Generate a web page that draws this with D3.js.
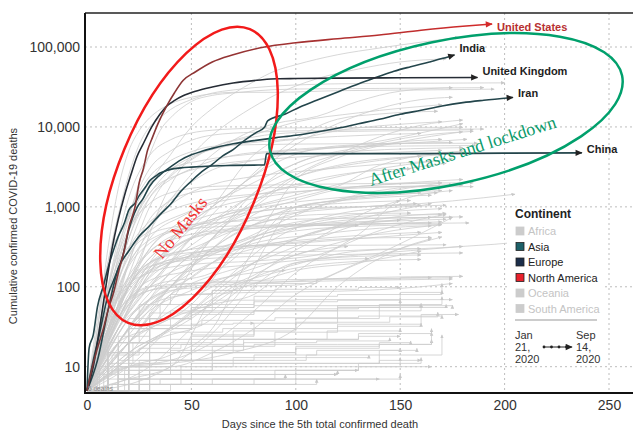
<!DOCTYPE html>
<html><head><meta charset="utf-8">
<script src="https://cdn.jsdelivr.net/npm/d3@7"></script>
<style>
body{margin:0;background:#fff}
svg{display:block;font-family:"Liberation Sans",Arial,Helvetica,sans-serif}
</style>
</head><body>
<svg id="c" width="633" height="431"></svg>
<script>
// ---------------- DATA ----------------
const xTicks = [0, 50, 100, 150, 200, 250];
const yTicks = [10, 100, 1000, 10000, 100000];
const yTickLabels = ["10", "100", "1,000", "10,000", "100,000"];

// highlighted countries: [day since 5th death, cumulative deaths]
const usDeaths = [[0,5],[3,11],[5,17],[8,31],[10,50],[13,90],[15,150],[18,300],[20,550],[23,1000],[25,2000],[27,3000],[29,5100],[31,7000],[34,11000],[38,18000],[42,27000],[46,38000],[52,49000],[60,65000],[70,80000],[85,100000],[100,113000],[120,127000],[140,141000],[160,162000],[180,182000],[194,194000]];
const ukDeaths = [[0,5],[3,10],[6,30],[9,100],[12,300],[15,700],[18,1400],[21,2500],[24,4300],[27,6200],[31,10000],[35,14500],[38,18000],[42,21500],[46,24500],[52,28000],[60,31600],[70,35500],[83,38700],[91,40000],[100,40300],[120,40800],[150,41200],[187,41600]];
const indiaDeaths = [[0,5],[5,12],[10,50],[15,170],[20,280],[25,430],[30,580],[35,800],[40,1075],[45,1570],[50,2100],[55,2750],[60,3400],[65,4350],[70,5200],[75,6650],[81,8500],[85,9900],[86.5,11900],[95,14500],[102,17800],[110,21600],[121,28000],[133,37000],[140,43000],[147,49700],[155,56700],[164,65000],[170,71600],[176,79700]];
const iranDeaths = [[0,5],[3,12],[6,26],[10,77],[14,145],[17,237],[20,514],[24,988],[27,1284],[30,1812],[35,2517],[40,3160],[45,3872],[50,4474],[55,4958],[60,5391],[70,6156],[80,6733],[90,7300],[100,7878],[110,8659],[120,9623],[130,10958],[140,12447],[150,14405],[160,16147],[170,18264],[180,20125],[190,21571],[204,23400]];
const chinaDeaths = [[0,5],[1,17],[3,25],[5,56],[8,106],[10,170],[13,304],[15,426],[18,638],[20,910],[23,1113],[25,1380],[28,1770],[30,2118],[33,2442],[35,2663],[38,2838],[40,2943],[45,3070],[50,3140],[55,3200],[60,3250],[70,3300],[80,3330],[85,3340],[86,4632],[120,4634],[160,4640],[200,4700],[237,4740]];

const highlightNames = ["China", "Iran", "India", "United Kingdom", "United States"];
const highlightContinents = ["Asia", "Asia", "Asia", "Europe", "North America"];
const highlightData = [chinaDeaths, iranDeaths, indiaDeaths, ukDeaths, usDeaths];

// other countries (grey), larger totals
const greyLarge = [
 [[0,5],[10,60],[20,400],[30,1900],[40,4500],[50,10000],[60,17000],[70,26000],[80,37000],[90,50000],[100,60000],[120,80000],[140,97000],[160,115000],[178,132000]],
 [[0,5],[15,50],[25,200],[35,1000],[45,3000],[55,6000],[65,10000],[75,15000],[90,25000],[110,40000],[130,53000],[150,65000],[172,71000]],
 [[0,5],[5,30],[10,200],[15,800],[20,2500],[25,6000],[30,10000],[35,13000],[40,16500],[50,22000],[60,26500],[70,29000],[80,31000],[100,33500],[130,34900],[160,35200],[200,35600]],
 [[0,5],[5,30],[10,300],[15,1700],[20,5000],[25,9000],[30,13000],[35,16500],[40,19500],[50,23500],[60,26000],[70,27100],[90,27100],[120,28400],[160,29000],[195,29700]],
 [[0,5],[10,50],[15,250],[20,700],[25,2000],[30,4500],[35,9000],[40,13000],[45,17000],[50,20800],[60,24800],[70,26600],[80,28200],[100,29800],[140,30300],[190,31000]],
 [[0,5],[15,100],[30,500],[45,1800],[60,4500],[75,8000],[90,11000],[110,13500],[130,21000],[150,28000],[175,31000]],
 [[0,5],[10,90],[20,800],[30,3000],[40,5000],[50,6800],[60,7900],[80,8600],[120,9100],[170,9400],[190,9400]],
 [[0,5],[10,100],[20,1300],[30,4400],[40,6900],[50,8400],[60,9100],[80,9600],[120,9800],[180,9900]],
 [[0,5],[20,100],[40,400],[60,1000],[80,2500],[100,6000],[120,11000],[140,17000],[160,22000],[175,23500]],
 [[0,5],[10,40],[20,300],[30,1300],[40,2400],[60,5500],[80,8000],[100,11500],[130,15000],[170,19000]],
 [[0,5],[15,30],[30,100],[45,300],[60,800],[75,2000],[90,4500],[105,8500],[120,12500],[140,14500],[168,15700]],
 [[0,5],[20,100],[40,300],[60,550],[80,1100],[100,2500],[120,4500],[140,7500],[160,10500],[180,12200]],
 [[0,5],[20,80],[40,300],[60,1000],[80,4500],[90,6500],[100,7000],[120,9000],[150,10800],[170,11600]],
 [[0,5],[10,30],[20,200],[30,1000],[40,2500],[50,4000],[60,5500],[80,7500],[100,8500],[140,8900],[185,9200]],
 [[0,5],[10,100],[20,800],[30,2400],[40,3800],[50,4900],[60,5700],[80,6000],[120,6150],[187,6250]],
 [[0,5],[10,40],[20,400],[30,1300],[40,2200],[50,3000],[70,4400],[90,5000],[120,5600],[186,5850]],
 [[0,5],[15,200],[30,500],[50,900],[70,1500],[90,2700],[110,4300],[130,5500],[160,7800],[185,8800]],
 [[0,5],[15,60],[25,300],[35,900],[45,1600],[60,2900],[80,3800],[100,4800],[130,6000],[180,11000]],
 [[0,5],[15,30],[30,150],[45,500],[60,1000],[75,2000],[90,3500],[105,5000],[125,5900],[175,6400]],
 [[0,5],[10,200],[20,700],[30,2000],[40,3000],[55,3800],[80,4600],[100,5100],[130,5700],[182,7000]],
 [[0,5],[20,60],[40,250],[60,600],[80,1500],[95,3000],[110,4300],[130,5000],[180,5500]],
 [[0,5],[20,30],[40,150],[60,400],[80,1500],[100,3000],[120,4500],[140,6000],[170,7000]],
 [[0,5],[15,60],[30,300],[50,650],[80,1000],[100,1300],[120,1800],[140,3300],[180,5000]],
 [[0,5],[15,50],[30,100],[50,400],[70,1000],[90,1900],[110,2800],[130,3500],[170,4500]],
 [[0,5],[15,50],[30,400],[45,750],[60,1100],[80,1400],[100,1800],[130,2700],[175,4000]],
 [[0,5],[20,50],[40,200],[60,500],[80,1000],[100,2300],[120,3300],[160,4300]],
 [[0,5],[15,50],[30,100],[60,150],[80,400],[100,2200],[120,4100],[150,6500],[180,8700]],
 [[0,5],[10,60],[20,500],[30,1100],[40,1500],[60,1800],[100,1900],[185,2000]],
 [[0,5],[10,20],[20,200],[30,700],[40,1200],[50,1500],[70,1700],[100,1750],[185,1790]],
 [[0,5],[10,60],[20,300],[30,650],[40,900],[60,1250],[100,1550],[150,1800],[180,1870]],
 [[0,5],[15,50],[30,300],[45,650],[60,950],[90,1400],[130,1800],[180,2200]],
 [[0,5],[15,40],[30,200],[45,500],[60,700],[90,1200],[120,1900],[160,3200],[172,3500]],
 [[0,5],[15,120],[30,600],[45,1300],[60,1900],[80,2400],[110,2900],[140,3400],[165,3700]],
 [[0,5],[10,80],[20,500],[30,1500],[45,2600],[60,3300],[90,4000],[130,4600],[170,5100]],
 [[0,5],[12,150],[25,900],[38,2600],[50,4200],[65,5600],[85,6600],[120,7600],[160,8300]]
];

// other countries (grey), medium totals
const greyMedium = [
 [[0,5],[5,12],[10,40],[15,75],[20,100],[30,160],[40,200],[50,230],[60,250],[80,265],[100,275],[120,280],[140,295],[160,300],[180,320],[195,340],[206,360]],
 [[0,5],[15,10],[30,30],[45,100],[55,280],[65,550],[80,850],[100,980],[130,1000],[160,1100],[190,1300],[205,1440]],
 [[0,5],[10,50],[20,250],[30,450],[40,550],[60,630],[100,700],[150,730],[180,750]],
 [[0,5],[10,40],[20,180],[30,350],[40,480],[60,560],[100,600],[150,615],[183,630]],
 [[0,5],[15,30],[30,170],[45,350],[60,480],[90,560],[130,600],[170,650]],
 [[0,5],[15,40],[30,160],[45,240],[70,310],[100,350],[130,400],[170,480]],
 [[0,5],[10,30],[20,100],[30,200],[45,260],[70,290],[100,400],[130,700],[165,1100]],
 [[0,5],[10,30],[20,200],[35,450],[50,560],[70,780],[100,1000],[130,1350],[170,1600]],
 [[0,5],[15,80],[30,150],[50,190],[80,210],[110,250],[130,450],[150,1200],[175,1600]],
 [[0,5],[20,30],[40,100],[60,400],[80,1200],[100,1900],[120,2500],[155,3000]],
 [[0,5],[20,40],[40,100],[60,300],[80,800],[100,1200],[130,1800],[170,2000]],
 [[0,5],[15,40],[30,130],[50,250],[70,350],[90,600],[110,1000],[140,1600],[175,1900]],
 [[0,5],[15,80],[30,200],[50,300],[70,500],[90,700],[110,1000],[170,2000]],
 [[0,5],[20,40],[40,150],[60,400],[80,700],[100,900],[130,1000],[160,1050]],
 [[0,5],[30,20],[60,40],[75,100],[85,300],[100,1000],[120,1200],[160,1500]],
 [[0,5],[20,25],[40,100],[60,300],[80,600],[100,1000],[130,1250],[165,1400]],
 [[0,5],[30,20],[50,50],[70,150],[90,400],[110,650],[140,780],[170,800]],
 [[0,5],[20,20],[40,80],[60,200],[80,350],[110,450],[140,540],[165,580]],
 [[0,5],[10,20],[20,70],[30,120],[45,150],[80,190],[130,250],[180,320]],
 [[0,5],[10,20],[20,70],[30,190],[45,280],[70,325],[120,330],[172,335]],
 [[0,5],[10,30],[20,100],[35,200],[60,260],[100,550],[140,720],[175,740]],
 [[0,5],[15,20],[30,70],[50,180],[70,330],[100,600],[130,900],[172,1050]],
 [[0,5],[15,30],[30,100],[50,200],[70,350],[100,550],[140,650],[172,700]],
 [[0,5],[15,20],[30,30],[50,60],[70,250],[90,550],[120,750],[170,950]],
 [[0,5],[20,20],[40,50],[60,100],[80,200],[100,400],[130,600],[165,630]],
 [[0,5],[30,10],[50,30],[70,80],[90,200],[110,400],[140,1000],[150,1200]],
 [[0,5],[20,20],[40,100],[60,300],[80,600],[110,800],[140,830],[155,835]],
 [[0,5],[20,30],[40,100],[60,200],[80,300],[110,380],[140,410],[165,415]],
 [[0,5],[20,10],[40,30],[60,60],[80,130],[100,190],[130,280],[160,300]],
 [[0,5],[10,15],[20,40],[30,70],[40,90],[60,100],[100,105],[130,200],[155,400],[175,740]],
 [[0,5],[20,15],[40,30],[60,80],[80,200],[100,400],[130,600],[165,740]],
 [[0,5],[20,10],[40,12],[60,20],[80,50],[100,150],[130,400],[160,700],[172,800]],
 [[0,5],[15,20],[30,50],[50,90],[80,170],[110,300],[140,470],[170,600]],
 [[0,5],[15,30],[30,70],[50,130],[70,300],[100,500],[130,570],[170,600]],
 [[0,5],[15,20],[30,60],[50,110],[80,200],[110,400],[140,700],[172,830]],
 [[0,5],[10,20],[20,60],[30,90],[45,100],[80,110],[130,130],[180,135]],
 [[0,5],[10,20],[20,70],[30,100],[50,110],[90,115],[130,120],[175,125]],
 [[0,5],[10,20],[20,100],[30,180],[45,210],[80,240],[130,255],[180,265]],
 [[0,5],[10,25],[20,60],[30,90],[50,110],[80,120],[120,125],[175,130]],
 [[0,5],[15,20],[30,60],[50,80],[80,85],[120,88],[160,100],[175,110]],
 [[0,5],[20,10],[40,10],[60,15],[80,30],[100,80],[120,150],[150,300],[170,420]],
 [[0,5],[20,10],[40,11],[70,15],[100,30],[120,100],[150,300],[165,400]],
 [[0,5],[20,15],[40,30],[60,70],[80,110],[100,160],[130,200],[160,280]],
 [[0,5],[20,20],[40,40],[60,60],[80,80],[100,200],[130,240],[160,250]],
 [[0,5],[20,20],[40,80],[60,120],[80,150],[95,160]],
 [[0,5],[15,30],[30,150],[50,400],[70,500],[100,580],[130,590]],
 [[0,5],[20,10],[40,14],[60,30],[80,300],[100,1000],[120,1100],[155,1200]],
 [[0,5],[15,10],[30,20],[50,40],[70,100],[90,150],[120,200],[160,220]],
 [[0,5],[20,7],[40,10],[60,70],[80,140],[100,250],[125,320]],
 [[0,5],[20,6],[40,10],[60,26],[80,100],[100,200],[120,220],[135,225]],
 [[0,5],[10,30],[20,90],[35,180],[55,260],[80,330],[120,420],[160,480]],
 [[0,5],[8,25],[18,110],[30,280],[45,420],[65,520],[100,600],[150,680]],
 [[0,5],[12,40],[25,160],[40,380],[60,700],[85,1000],[120,1300],[168,1500]],
 [[0,5],[10,35],[22,150],[35,350],[50,520],[75,700],[110,900],[158,1100]]
];

// other countries (grey), small totals (step-like)
const greySmall = [
 [[0,5],[20,30],[40,50],[60,90],[80,110],[110,125],[150,130],[165,130]],
 [[0,5],[10,15],[20,30],[30,40],[50,50],[90,53],[130,55],[172,60]],
 [[0,5],[15,20],[30,40],[50,55],[80,65],[120,68],[150,69]],
 [[0,5],[10,20],[25,60],[40,80],[60,90],[90,93],[130,98],[150,98]],
 [[0,5],[15,20],[30,40],[50,48],[80,50],[120,55],[150,80],[170,110]],
 [[0,5],[15,20],[30,40],[50,60],[80,76],[120,80],[150,85],[170,90]],
 [[0,5],[10,15],[20,40],[35,60],[60,68],[100,69],[175,69]],
 [[0,5],[20,15],[40,20],[60,22],[90,27],[120,34],[160,45],[178,45]],
 [[0,5],[10,15],[20,30],[30,47],[50,55],[80,58],[130,58],[175,59]],
 [[0,5],[10,15],[20,20],[40,22],[80,22],[110,22],[130,24],[150,24]],
 [[0,5],[15,7],[30,9],[50,11],[80,11],[110,11],[140,12],[160,12]],
 [[0,5],[10,10],[20,20],[30,30],[50,34],[70,35],[80,35]],
 [[0,5],[10,8],[20,10],[60,10],[120,10],[165,10]],
 [[0,5],[15,7],[30,9],[60,11],[100,11],[140,14],[170,25]],
 [[0,5],[15,12],[30,19],[50,24],[80,30],[120,32],[160,35]],
 [[0,5],[15,10],[30,15],[50,18],[80,19],[120,19],[165,22]],
 [[0,5],[20,9],[60,9],[100,9],[130,10],[150,13]],
 [[0,5],[15,10],[30,12],[60,15],[100,17],[140,19],[165,30]],
 [[0,5],[40,6],[80,7],[120,7],[150,8]],
 [[0,5],[10,6],[50,6],[100,7],[140,7]],
 [[0,5],[30,7],[90,9],[130,11],[160,13]],
 [[0,5],[20,7],[50,8],[90,8],[120,9]],
 [[0,5],[25,9],[60,15],[100,18],[140,20],[155,21]],
 [[0,5],[15,8],[40,12],[80,14],[110,16],[150,17]],
 [[0,5],[30,8],[70,8],[100,9],[130,9]],
 [[0,5],[20,6],[60,6],[90,6],[110,7]],
 [[0,5],[10,7],[30,12],[60,18],[90,22],[130,26],[165,27]],
 [[0,5],[20,10],[40,15],[70,28],[100,40],[140,60],[170,75]],
 [[0,5],[25,12],[50,25],[80,35],[120,50],[160,60]],
 [[0,5],[15,15],[30,30],[50,45],[80,50],[120,58],[160,62]],
 [[0,5],[5,8],[12,14],[25,17],[45,19],[75,20],[110,21],[145,23]],
 [[0,5],[8,9],[20,11],[40,12],[70,13],[100,13],[135,14]],
 [[0,5],[30,6],[60,7],[100,8],[120,8]],
 [[0,5],[12,6],[35,7],[70,7],[95,8]],
 [[0,5],[6,10],[15,24],[30,33],[55,38],[90,41],[130,43],[170,44]],
 [[0,5],[18,9],[40,16],[75,22],[115,28],[150,30]],
 [[0,5],[25,6],[45,10],[70,12],[105,14],[140,16],[158,17]],
 [[0,5],[10,11],[22,20],[40,27],[65,30],[100,36],[145,42],[168,48]]
];

const continents = ["Africa", "Asia", "Europe", "North America", "Oceania", "South America"];
const continentColors = ["#cccccc", "#1d6068", "#1b2e4a", "#e8212b", "#cccccc", "#cccccc"];
const lineColors = {"Asia": "#23454b", "Europe": "#262c35", "North America": "url(#usGrad)"};

// ---------------- CHART ----------------
const svg = d3.select("#c");
const L = 85, R = 633, T = 13, B = 393;
const x = d3.scaleLinear().domain([0, 250]).range([87, 609]);
const y = d3.scaleLog().domain([10, 100000]).range([366.7, 47]);

const defs = svg.append("defs");
const grad = defs.append("linearGradient").attr("id", "usGrad")
  .attr("gradientUnits", "userSpaceOnUse").attr("x1", x(0)).attr("x2", x(195)).attr("y1", 0).attr("y2", 0);
grad.append("stop").attr("offset", 0).attr("stop-color", "#7c3838");
grad.append("stop").attr("offset", 0.45).attr("stop-color", "#9b3232");
grad.append("stop").attr("offset", 1).attr("stop-color", "#d52a2a");

function marker(id, color, w, h) {
  defs.append("marker").attr("id", id).attr("markerUnits", "userSpaceOnUse")
    .attr("viewBox", "0 -5 10 10").attr("refX", 9).attr("refY", 0)
    .attr("markerWidth", w).attr("markerHeight", h).attr("orient", "auto")
    .append("path").attr("d", "M0,-4.5L10,0L0,4.5Z").attr("fill", color);
}
marker("arrGrey", "#c8c8c8", 4, 4);
marker("arrDark", "#222", 8, 7);
marker("arrRed", "#d52a2a", 8, 7);

// grid
const grid = svg.append("g");
grid.selectAll("line.v").data(xTicks.filter(d => d > 0)).join("line")
  .attr("x1", d => x(d)).attr("x2", d => x(d)).attr("y1", T).attr("y2", B)
  .attr("stroke", "#bdbdbd").attr("stroke-width", 1).attr("stroke-dasharray", "2,3");
grid.selectAll("line.h").data(yTicks).join("line")
  .attr("y1", d => y(d)).attr("y2", d => y(d)).attr("x1", L).attr("x2", R)
  .attr("stroke", "#bdbdbd").attr("stroke-width", 1).attr("stroke-dasharray", "2,3");

const line = d3.line().x(d => x(d[0])).y(d => y(d[1])).curve(d3.curveMonotoneX);
const stepLine = d3.line().x(d => x(d[0])).y(d => y(d[1])).curve(d3.curveStepAfter);

const greyG = svg.append("g").attr("fill", "none").attr("stroke", "#cdcdcd").attr("stroke-width", 0.8);
greyG.selectAll("path.s").data(greySmall).join("path").attr("d", stepLine).attr("marker-end", "url(#arrGrey)");
greyG.selectAll("path.m").data(greyMedium).join("path").attr("d", line).attr("marker-end", "url(#arrGrey)");
greyG.selectAll("path.l").data(greyLarge).join("path").attr("d", line).attr("marker-end", "url(#arrGrey)");

// legend background (covers lines and grid inside legend)
svg.append("rect").attr("x", 507).attr("y", 209).attr("width", 96).attr("height", 156).attr("fill", "#fff");

// highlighted lines
const hl = highlightNames.map((n, i) => ({name: n, continent: highlightContinents[i], data: highlightData[i]}));
const hlG = svg.append("g").attr("fill", "none");
hlG.selectAll("path").data(hl).join("path")
  .attr("d", d => line(d.data))
  .attr("stroke", d => lineColors[d.continent])
  .attr("stroke-width", 1.6)
  .attr("marker-end", d => d.continent === "North America" ? "url(#arrRed)" : "url(#arrDark)");

const labelDy = {"China": -3, "Iran": -3, "India": -6, "United Kingdom": -5, "United States": 4};
svg.append("g").selectAll("text").data(hl).join("text")
  .attr("x", d => x(d.data[d.data.length - 1][0]) + 5)
  .attr("y", d => y(d.data[d.data.length - 1][1]) + labelDy[d.name])
  .attr("dominant-baseline", "middle")
  .attr("font-size", 11).attr("font-weight", "bold")
  .attr("fill", d => d.continent === "North America" ? "#b83030" : "#1e1e1e")
  .text(d => d.name);

// axes
const yAxis = d3.axisLeft(y).tickValues(yTicks).tickFormat((d, i) => yTickLabels[i]).tickSize(0).tickPadding(5);
const gy = svg.append("g").attr("transform", `translate(${L},0)`).call(yAxis);
gy.select(".domain").remove();
gy.attr("font-family", null);
gy.selectAll("text").attr("font-size", 14).attr("fill", "#333");

const xAxis = d3.axisBottom(x).tickValues(xTicks).tickSize(0).tickPadding(7);
const gx = svg.append("g").attr("transform", `translate(0,${B})`).call(xAxis);
gx.select(".domain").remove();
gx.attr("font-family", null);
gx.selectAll("text").attr("font-size", 14).attr("fill", "#333");

// frame
svg.append("line").attr("x1", L).attr("x2", R).attr("y1", T).attr("y2", T).attr("stroke", "#222").attr("stroke-width", 1.5);
svg.append("line").attr("x1", L).attr("x2", L).attr("y1", T).attr("y2", B + 1).attr("stroke", "#111").attr("stroke-width", 2);
svg.append("line").attr("x1", L - 1).attr("x2", R).attr("y1", B).attr("y2", B).attr("stroke", "#111").attr("stroke-width", 2);

// axis titles
svg.append("text").attr("transform", "translate(17,226) rotate(-90)").attr("text-anchor", "middle")
  .attr("font-size", 11).attr("fill", "#333").text("Cumulative confirmed COVID-19 deaths");
svg.append("text").attr("x", 320).attr("y", 428).attr("text-anchor", "middle")
  .attr("font-size", 11).attr("fill", "#333").text("Days since the 5th total confirmed death");

svg.append("text").attr("x", 88).attr("y", 390.5).attr("font-size", 6.5).attr("fill", "#8a8a8a").text("5 deaths");

// legend
const lg = svg.append("g");
lg.append("text").attr("x", 515).attr("y", 218).attr("font-size", 12).attr("font-weight", "bold").attr("fill", "#222").text("Continent");
const items = lg.selectAll("g.it").data(continents).join("g").attr("transform", (d, i) => `translate(515,${231 + i * 15.5})`);
items.append("rect").attr("x", 1).attr("y", -4).attr("width", 8).attr("height", 8)
  .attr("fill", (d, i) => continentColors[i])
  .attr("stroke", (d, i) => continentColors[i] === "#cccccc" ? "#cccccc" : "#222").attr("stroke-width", 0.8);
items.append("text").attr("x", 13).attr("y", 4).attr("font-size", 11)
  .attr("fill", (d, i) => continentColors[i] === "#cccccc" ? "#c4c4c4" : "#222").text(d => d);
lg.append("line").attr("x1", 515).attr("x2", 597).attr("y1", 320).attr("y2", 320).attr("stroke", "#bbb").attr("stroke-width", 1.5);
const dateStart = ["Jan", "21,", "2020"], dateEnd = ["Sep", "14,", "2020"];
lg.selectAll("text.ds").data(dateStart).join("text").attr("x", 515).attr("y", (d, i) => 339 + i * 12)
  .attr("font-size", 11).attr("fill", "#333").text(d => d);
lg.selectAll("text.de").data(dateEnd).join("text").attr("x", 576).attr("y", (d, i) => 339 + i * 12)
  .attr("font-size", 11).attr("fill", "#333").text(d => d);
lg.append("line").attr("x1", 543).attr("x2", 572).attr("y1", 347).attr("y2", 347).attr("stroke", "#222").attr("stroke-width", 1)
  .attr("marker-end", "url(#arrDark)");
lg.selectAll("circle").data([0, 1, 2, 3]).join("circle").attr("cx", d => 544 + d * 7.5).attr("cy", 347).attr("r", 1.4).attr("fill", "#222");

// annotations
svg.append("ellipse").attr("cx", 0).attr("cy", 0).attr("rx", 159).attr("ry", 70)
  .attr("transform", "translate(189,176) rotate(-67.5)")
  .attr("fill", "none").attr("stroke", "#f21a1a").attr("stroke-width", 2.5);
svg.append("ellipse").attr("cx", 0).attr("cy", 0).attr("rx", 180).attr("ry", 72)
  .attr("transform", "translate(446,113) rotate(-12)")
  .attr("fill", "none").attr("stroke", "#00a06c").attr("stroke-width", 2.5);
svg.append("text").attr("transform", "translate(162,260) rotate(-51)")
  .style("font-family", "'Liberation Serif', 'Times New Roman', serif").attr("font-size", 18).attr("fill", "#f03030").text("No Masks");
svg.append("text").attr("transform", "translate(371,186) rotate(-17.5)")
  .style("font-family", "'Liberation Serif', 'Times New Roman', serif").attr("font-size", 18).attr("fill", "#0a9a6a").text("After Masks and lockdown");
</script>
</body></html>
